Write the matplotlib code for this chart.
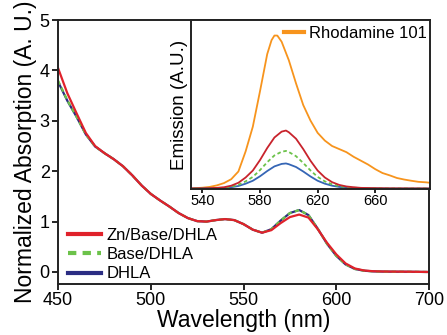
import numpy as np
import matplotlib
matplotlib.use("Agg")
from matplotlib import pyplot as plt

plt.rcParams['font.family'] = ['Liberation Sans', 'DejaVu Sans']

# absorption spectra (normalized)
abs_wl = [450, 455, 460, 465, 470, 475, 480, 485, 490, 495, 500, 505, 510, 515, 520,
          525, 530, 535, 540, 545, 550, 555, 560, 565, 570, 575, 580, 585, 590, 595,
          600, 605, 610, 615, 620, 625, 630, 640, 650]
abs_zn = [4.05, 3.55, 3.15, 2.76, 2.50, 2.36, 2.24, 2.10, 1.92, 1.72, 1.55, 1.42, 1.30, 1.17, 1.07,
          1.01, 1.00, 1.03, 1.05, 1.03, 0.95, 0.84, 0.78, 0.83, 0.97, 1.09, 1.14, 1.08, 0.85, 0.58,
          0.35, 0.17, 0.07, 0.03, 0.015, 0.01, 0.008, 0.005, 0.0]
abs_base = [3.80, 3.41, 3.08, 2.73, 2.49, 2.36, 2.24, 2.10, 1.92, 1.72, 1.55, 1.42, 1.30, 1.17, 1.07,
            1.01, 1.00, 1.03, 1.05, 1.03, 0.95, 0.84, 0.78, 0.85, 1.02, 1.17, 1.23, 1.13, 0.86, 0.56,
            0.32, 0.15, 0.06, 0.025, 0.012, 0.008, 0.006, 0.004, 0.0]
abs_dhla = [3.78, 3.40, 3.08, 2.73, 2.49, 2.36, 2.24, 2.10, 1.92, 1.72, 1.55, 1.42, 1.30, 1.17, 1.07,
            1.01, 1.00, 1.03, 1.05, 1.03, 0.95, 0.84, 0.78, 0.85, 1.02, 1.17, 1.23, 1.13, 0.86, 0.56,
            0.32, 0.15, 0.06, 0.025, 0.012, 0.008, 0.006, 0.004, 0.0]
abs_ticks = [450, 500, 550, 600, 650]
abs_ticklabels = ["450", "500", "550", "600", "700"]

# emission spectra (inset)
em_wl = [530, 535, 540, 545, 550, 555, 560, 565, 570, 575, 580, 585, 590, 595, 598,
         600, 605, 610, 615, 620, 625, 630, 635, 640, 645, 650, 660, 670, 680, 698]
em_zn = [0, 0.0005, 0.001, 0.002, 0.004, 0.008, 0.018, 0.037, 0.071, 0.116, 0.184, 0.262, 0.330, 0.368, 0.375,
         0.364, 0.322, 0.255, 0.180, 0.116, 0.071, 0.041, 0.023, 0.013, 0.008, 0.004, 0.002, 0.001, 0.0005, 0]
em_base = [0, 0, 0.001, 0.001, 0.003, 0.005, 0.012, 0.024, 0.046, 0.075, 0.119, 0.170, 0.214, 0.238, 0.243,
           0.236, 0.209, 0.165, 0.117, 0.075, 0.046, 0.027, 0.015, 0.009, 0.005, 0.003, 0.001, 0, 0, 0]
em_dhla = [0, 0, 0, 0.001, 0.002, 0.003, 0.008, 0.016, 0.031, 0.050, 0.079, 0.113, 0.143, 0.159, 0.162,
           0.157, 0.139, 0.110, 0.078, 0.050, 0.031, 0.018, 0.010, 0.006, 0.003, 0.002, 0.001, 0, 0, 0]
rh_wl = [532, 540, 545, 550, 555, 560, 565, 570, 575, 580, 585, 588, 590, 592, 595, 600, 605, 610,
         615, 620, 625, 630, 635, 640, 645, 650, 655, 660, 665, 670, 675, 680, 685, 690, 695, 698]
rh_em = [0.0, 0.005, 0.01, 0.02, 0.035, 0.06, 0.11, 0.24, 0.40, 0.63, 0.87, 0.96, 0.99, 0.99, 0.95, 0.83, 0.68, 0.54,
         0.44, 0.36, 0.31, 0.275, 0.255, 0.235, 0.205, 0.18, 0.155, 0.125, 0.10, 0.085, 0.068, 0.058, 0.05, 0.043, 0.04, 0.037]
em_ticks = [540, 580, 620, 660]

RED = "#e0222b"
GREEN = "#6cc24a"
NAVY = "#2b2d83"
ORANGE = "#f7941d"
DRED = "#c8232c"
LBLUE = "#3566b5"
SPINE = "#222222"

fig = plt.figure(figsize=(4.47, 3.35), dpi=100)
ax = fig.add_axes([0.1298, 0.152, 0.830, 0.788])

ax.plot(abs_wl, abs_dhla, color=NAVY, lw=1.6, label="DHLA")
ax.plot(abs_wl, abs_base, color=GREEN, lw=1.6, ls=(0, (2, 1.5)), label="Base/DHLA")
ax.plot(abs_wl, abs_zn, color=RED, lw=1.6, label="Zn/Base/DHLA")

ax.set_xlim(450, 650)
ax.set_ylim(-0.24, 5)
ax.set_xticks(abs_ticks)
ax.set_xticklabels(abs_ticklabels)
ax.set_yticks([0, 1, 2, 3, 4, 5])
ax.tick_params(labelsize=13, length=4, width=1.2, direction='out', pad=2)
for s in ax.spines.values():
    s.set_linewidth(1.4)
    s.set_color(SPINE)
ax.set_xlabel("Wavelength (nm)", fontsize=16.5, labelpad=0)
ax.set_ylabel("Normalized Absorption (A. U.)", fontsize=16.5, labelpad=2)

h, l = ax.get_legend_handles_labels()
leg = ax.legend(h[::-1], l[::-1], loc='lower left', bbox_to_anchor=(0.027, 0.01),
                frameon=False, fontsize=12, handlelength=2.0, handletextpad=0.3,
                labelspacing=0.25, borderpad=0, borderaxespad=0)
for ln in leg.get_lines():
    ln.set_linewidth(3)

ins = fig.add_axes([0.427, 0.436, 0.535, 0.504])
ins.plot(rh_wl, rh_em, color=ORANGE, lw=1.3, label="Rhodamine 101")
ins.plot(em_wl, em_dhla, color=LBLUE, lw=1.3)
ins.plot(em_wl, em_base, color=GREEN, lw=1.3, ls=(0, (2, 1.5)))
ins.plot(em_wl, em_zn, color=DRED, lw=1.3)
ins.set_xlim(532, 698)
ins.set_ylim(-0.003, 1.09)
ins.set_xticks(em_ticks)
ins.set_yticks([])
ins.tick_params(labelsize=10.5, length=3, width=1.2, direction='out', pad=1)
for s in ins.spines.values():
    s.set_linewidth(1.4)
    s.set_color(SPINE)
ins.set_ylabel("Emission (A.U.)", fontsize=13.5, labelpad=2)
ileg = ins.legend(loc='upper right', bbox_to_anchor=(1.0, 0.985), frameon=False,
                  fontsize=12, handlelength=1.2, handletextpad=0.3,
                  borderpad=0.2, borderaxespad=0)
for ln in ileg.get_lines():
    ln.set_linewidth(3)

fig.savefig("out.png", dpi=100)
